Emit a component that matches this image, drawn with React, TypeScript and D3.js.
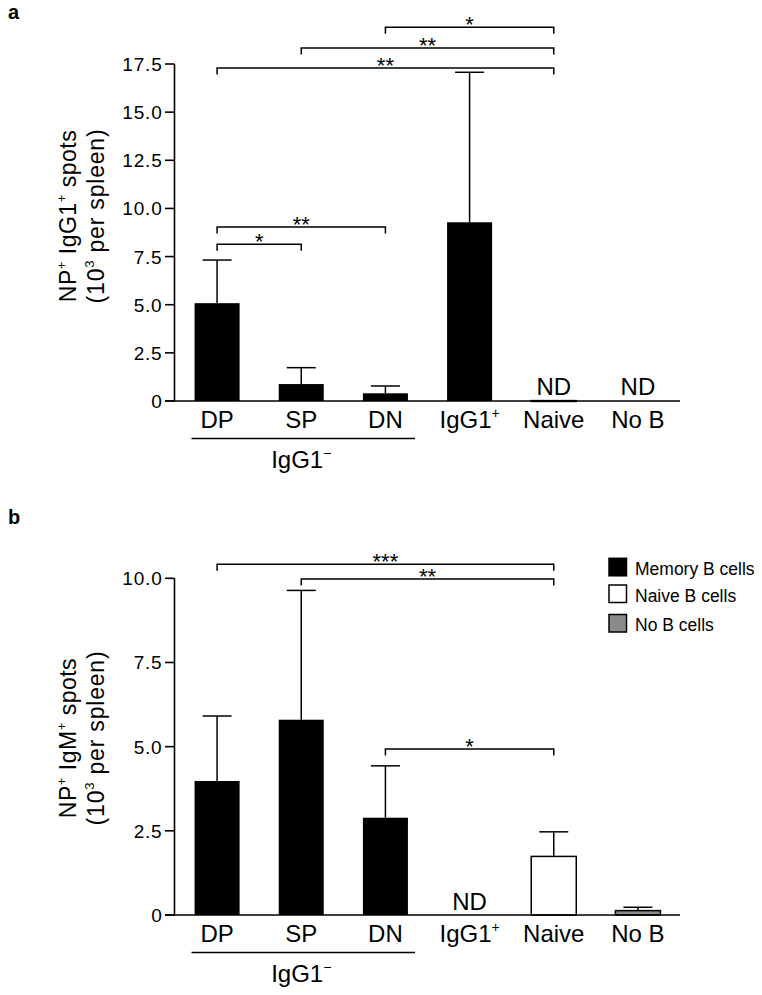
import React from "react";
import * as d3 from "d3";

// ---------- DATA ----------
const categories = ["DP", "SP", "DN", "IgG1+", "Naive", "No B"];
const cellTypes = ["memory", "memory", "memory", "memory", "naive", "noB"];

// Panel a: NP+ IgG1+ spots (10^3 per spleen)
const igg1Means = [5.08, 0.88, 0.4, 9.28, 0.02, 0];
const igg1ErrTops = [7.32, 1.73, 0.78, 17.07, null, null];
const igg1ND = [false, false, false, false, true, true];
const igg1Ticks = [0, 2.5, 5, 7.5, 10, 12.5, 15, 17.5];
const igg1Sig: [number, number, string, number][] = [
  [0, 1, "*", 8.14],
  [0, 2, "**", 9.04],
  [0, 4, "**", 17.29],
  [1, 4, "**", 18.33],
  [2, 4, "*", 19.41],
];

// Panel b: NP+ IgM+ spots (10^3 per spleen)
const igmMeans = [3.98, 5.8, 2.89, 0, 1.74, 0.13];
const igmErrTops = [5.91, 9.64, 4.43, null, 2.47, 0.23];
const igmND = [false, false, false, true, false, false];
const igmTicks = [0, 2.5, 5, 7.5, 10];
const igmSig: [number, number, string, number][] = [
  [0, 4, "***", 10.42],
  [1, 4, "**", 9.98],
  [2, 4, "*", 4.93],
];

const legendLabels = ["Memory B cells", "Naive B cells", "No B cells"];
const legendTypes = ["memory", "naive", "noB"];

// ---------- STYLE ----------
const FONT = "'Liberation Sans', Arial, Helvetica, sans-serif";
const fillFor = (t: string) => (t === "memory" ? "#000" : t === "naive" ? "#fff" : "#8a8a8a");

const x = d3
  .scaleBand<string>()
  .domain(categories)
  .range([175, 680])
  .paddingInner(0.465)
  .paddingOuter(0.2325);
const cx = (i: number) => (x(categories[i]) as number) + x.bandwidth() / 2;

function fmtTick(v: number) {
  return v === 0 ? "0" : d3.format(".1f")(v);
}

function CatLabel({ name, xPos, y }: { name: string; xPos: number; y: number }) {
  if (name === "IgG1+") {
    return (
      <text x={xPos} y={y} textAnchor="middle" fontSize={24} fontFamily={FONT}>
        IgG1
        <tspan fontSize={14} dy={-10}>+</tspan>
      </text>
    );
  }
  return (
    <text x={xPos} y={y} textAnchor="middle" fontSize={24} fontFamily={FONT}>
      {name}
    </text>
  );
}

function Panel({
  top,
  bottom,
  yMax,
  ticks,
  means,
  errTops,
  nd,
  sig,
  ndBaseline,
  titleMain,
  titleCenter,
  letter,
  letterY,
}: any) {
  const y = d3.scaleLinear().domain([0, yMax]).range([bottom, top]);
  const axisX = 174.5;
  return (
    <g>
      <text x={8} y={letterY} fontSize={20} fontWeight="bold" fontFamily={FONT}>
        {letter}
      </text>
      {/* y-axis title */}
      <g transform={`translate(76,${titleCenter}) rotate(-90)`}>
        <text textAnchor="middle" fontSize={23} fontFamily={FONT} letterSpacing={0.5}>
          NP<tspan fontSize={13} dy={-10}>+</tspan>
          <tspan dy={10}> {titleMain}</tspan>
          <tspan fontSize={13} dy={-10}>+</tspan>
          <tspan dy={10}> spots</tspan>
        </text>
      </g>
      <g transform={`translate(104,${titleCenter}) rotate(-90)`}>
        <text textAnchor="middle" fontSize={23} fontFamily={FONT} letterSpacing={0.8}>
          (10<tspan fontSize={13} dy={-10}>3</tspan>
          <tspan dy={10}> per spleen)</tspan>
        </text>
      </g>
      {/* bars */}
      {categories.map((c, i) => {
        const v = means[i];
        if (v <= 0) return null;
        const t = cellTypes[i];
        const h = y(0) - y(v);
        return (
          <rect
            key={c}
            x={x(c)}
            y={y(v)}
            width={x.bandwidth()}
            height={Math.max(h, 0.8)}
            fill={fillFor(t)}
            stroke={t === "memory" ? "none" : "#000"}
            strokeWidth={1.5}
          />
        );
      })}
      {/* error bars */}
      {categories.map((c, i) => {
        const e = errTops[i];
        if (e == null) return null;
        const xc = cx(i);
        return (
          <g key={c} stroke="#000" strokeWidth={1.5}>
            <line x1={xc} x2={xc} y1={y(means[i])} y2={y(e)} />
            <line x1={xc - 14.5} x2={xc + 14.5} y1={y(e)} y2={y(e)} />
          </g>
        );
      })}
      {/* ND labels */}
      {categories.map((c, i) =>
        nd[i] ? (
          <text key={c} x={cx(i)} y={ndBaseline} textAnchor="middle" fontSize={24} fontFamily={FONT}>
            ND
          </text>
        ) : null
      )}
      {/* axes */}
      <line x1={axisX} x2={axisX} y1={y(yMax)} y2={y(0)} stroke="#000" strokeWidth={1.6} />
      <line x1={165} x2={680} y1={y(0)} y2={y(0)} stroke="#000" strokeWidth={1.6} />
      {ticks.map((t: number) => (
        <g key={t}>
          <line x1={165} x2={axisX} y1={y(t)} y2={y(t)} stroke="#000" strokeWidth={1.6} />
          <text
            x={162.5}
            y={y(t) + 7}
            textAnchor="end"
            fontSize={19}
            letterSpacing={0.8}
            fontFamily={FONT}
          >
            {fmtTick(t)}
          </text>
        </g>
      ))}
      {/* category labels */}
      {categories.map((c, i) => (
        <CatLabel key={c} name={c} xPos={cx(i)} y={y(0) + 27} />
      ))}
      {/* group line */}
      <line x1={191.5} x2={415} y1={y(0) + 37.5} y2={y(0) + 37.5} stroke="#000" strokeWidth={1.5} />
      <text x={cx(1)} y={y(0) + 67} textAnchor="middle" fontSize={24} fontFamily={FONT}>
        IgG1<tspan fontSize={14} dy={-10}>−</tspan>
      </text>
      {/* significance brackets */}
      {sig.map(([a, b, s, lvl]: [number, number, string, number], k: number) => {
        const yy = y(lvl);
        const x1 = cx(a);
        const x2 = cx(b);
        return (
          <g key={k}>
            <path
              d={`M${x1},${yy + 6.5}V${yy}H${x2}V${yy + 6.5}`}
              fill="none"
              stroke="#000"
              strokeWidth={1.5}
            />
            <text x={(x1 + x2) / 2} y={yy + 5} textAnchor="middle" fontSize={22} fontFamily={FONT}>
              {s}
            </text>
          </g>
        );
      })}
    </g>
  );
}

export default function App() {
  return (
    <svg
      width={762}
      height={995}
      viewBox="0 0 762 995"
      style={{ position: "absolute", left: 0, top: 0, background: "#fff" }}
    >
      <rect width={762} height={995} fill="#fff" />
      <Panel
        top={64}
        bottom={401}
        yMax={17.5}
        ticks={igg1Ticks}
        means={igg1Means}
        errTops={igg1ErrTops}
        nd={igg1ND}
        sig={igg1Sig}
        ndBaseline={395}
        titleMain="IgG1"
        titleCenter={216}
        letter="a"
        letterY={19}
      />
      <Panel
        top={578.3}
        bottom={915}
        yMax={10}
        ticks={igmTicks}
        means={igmMeans}
        errTops={igmErrTops}
        nd={igmND}
        sig={igmSig}
        ndBaseline={910}
        titleMain="IgM"
        titleCenter={738}
        letter="b"
        letterY={524}
      />
      {/* legend */}
      {legendLabels.map((l, i) => {
        const ys = [558.3, 585, 614.5][i];
        return (
          <g key={l}>
            <rect
              x={609}
              y={ys}
              width={17.5}
              height={17.5}
              fill={fillFor(legendTypes[i])}
              stroke="#000"
              strokeWidth={1.5}
            />
            <text x={635} y={ys + 16.5} fontSize={17.5} fontFamily={FONT}>
              {l}
            </text>
          </g>
        );
      })}
    </svg>
  );
}
